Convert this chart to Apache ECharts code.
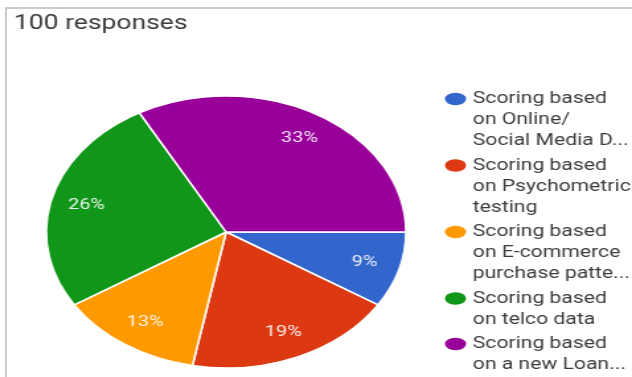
<!DOCTYPE html>
<html>
<head>
<meta charset="utf-8">
<script src="https://cdn.jsdelivr.net/npm/echarts@6/dist/echarts.min.js"></script>
<style>
  html, body { margin: 0; padding: 0; background: #fff; overflow: hidden; width: 632px; height: 377px; }
  #frame { position: absolute; left: 5px; top: 7px; width: 700px; height: 500px; z-index: 2;
           pointer-events: none; border-top: 2px solid #cccccc; border-left: 2px solid #cccccc; }
  /* the chart is laid out narrow and widened horizontally */
  #chart { position: absolute; left: 0; top: 0; width: 478px; height: 377px; z-index: 1;
           transform: scaleX(1.3222); transform-origin: 0 0; }
</style>
</head>
<body>
<div id="frame"></div>
<div id="chart"></div>
<script>
// Survey answers (legend text wraps as shown in the form summary)
const categories = [
  'Scoring based\non Online/\nSocial Media D...',
  'Scoring based\non Psychometric\ntesting',
  'Scoring based\non E-commerce\npurchase patte...',
  'Scoring based\non telco data',
  'Scoring based\non a new Loan...'
];
// Share of the 100 responses, in percent
const shares = [9, 19, 13, 26, 33];
const titleText = '100 responses';
const palette = ['#3366cc', '#dc3912', '#ff9900', '#109618', '#990099'];

const chart = echarts.init(document.getElementById('chart'), null, { renderer: 'canvas' });

const FONT = 'Roboto, "Noto Sans", sans-serif';
const LINE_H = 21;
const ITEM_GAP = 3.5;
const CENTER = [171, 232];
const RADIUS = 136;

// One legend block per answer so that each dot sits beside the first text line
let legendY = 99 - LINE_H / 2;
const legends = categories.map((name) => {
  const h = name.split('\n').length * LINE_H;
  const icon = `path://M0,0L0,0M0,10.5A8,6.2,0,1,1,16,10.5A8,6.2,0,1,1,0,10.5ZM16,${h}L16,${h}`;
  const block = {
    data: [{ name: name, icon: icon }],
    orient: 'vertical',
    left: 336.5,
    top: legendY,
    padding: 0,
    itemGap: 0,
    itemWidth: 16,
    itemHeight: h,
    selectedMode: false,
    itemStyle: { borderWidth: 0 },
    textStyle: { fontFamily: FONT, fontSize: 16, lineHeight: LINE_H, color: '#3c3c3c' }
  };
  legendY += h + ITEM_GAP;
  return block;
});

const sliceData = categories.map((name, i) => ({
  name: name,
  value: shares[i],
  itemStyle: { color: palette[i] }
}));

const labelData = categories.map((name, i) => ({ name: name, value: shares[i] }));

chart.setOption({
  animation: false,
  backgroundColor: 'transparent',
  title: {
    text: titleText,
    left: 10.6,
    top: 14,
    padding: 0,
    textStyle: { fontFamily: FONT, fontSize: 20, fontWeight: 'normal', color: '#3a3a3a' }
  },
  legend: legends,
  series: [
    {
      type: 'pie',
      center: CENTER,
      radius: RADIUS,
      startAngle: 0,
      clockwise: true,
      label: { show: false },
      labelLine: { show: false },
      itemStyle: { borderColor: '#fff', borderWidth: 1.5 },
      emphasis: { disabled: true },
      data: sliceData
    },
    {
      // transparent ring that carries the percentage labels further out
      type: 'pie',
      center: CENTER,
      radius: [76, RADIUS],
      startAngle: 0,
      clockwise: true,
      silent: true,
      itemStyle: { color: 'transparent', borderWidth: 0 },
      label: {
        show: true,
        position: 'inside',
        formatter: '{c}%',
        color: 'rgba(255,255,255,0.9)',
        fontFamily: FONT,
        fontSize: 15
      },
      labelLine: { show: false },
      emphasis: { disabled: true },
      data: labelData
    }
  ]
});
</script>
</body>
</html>
